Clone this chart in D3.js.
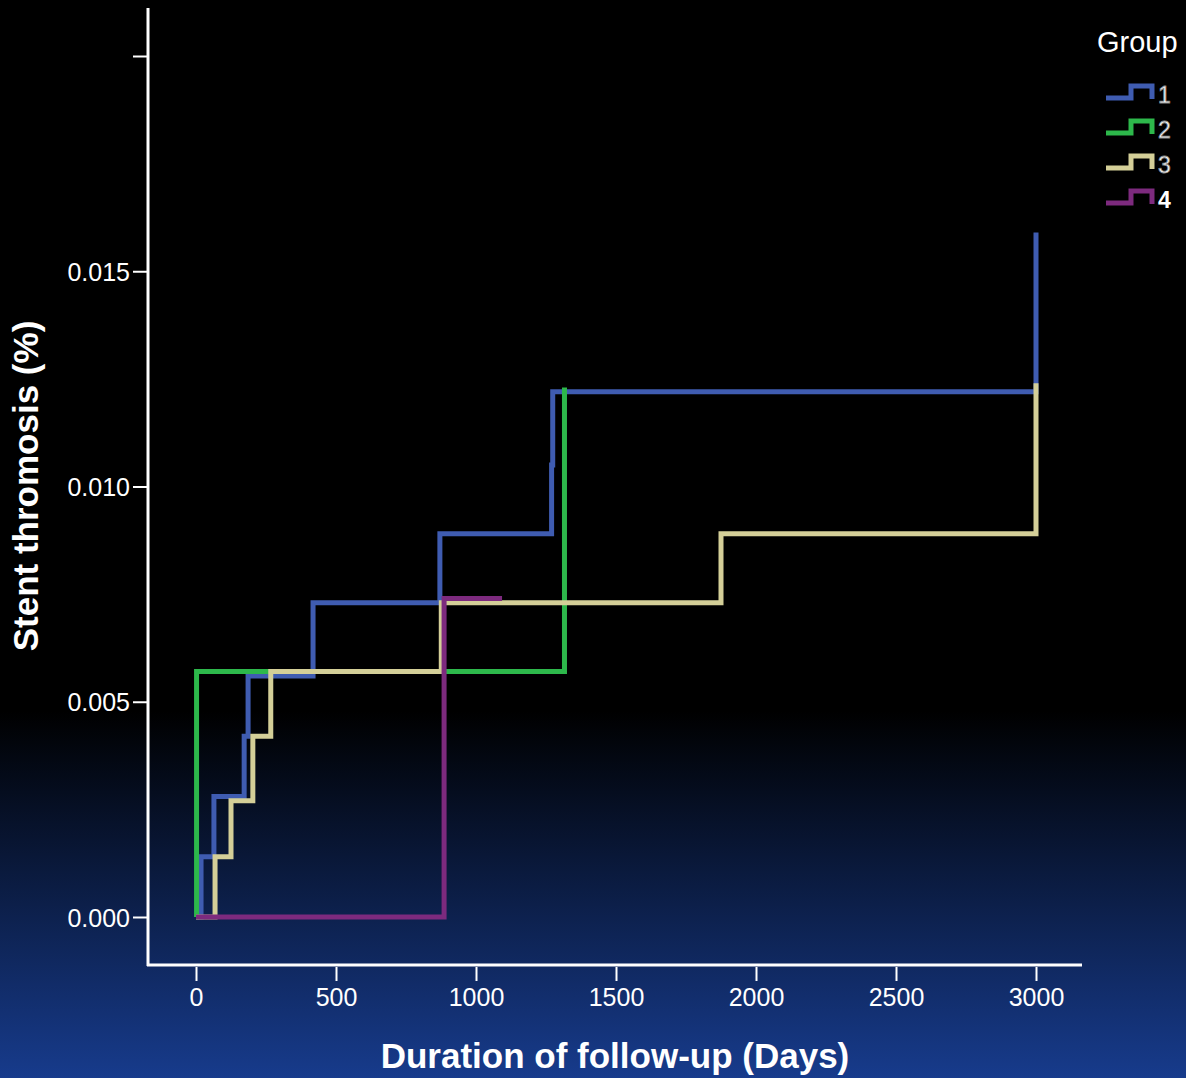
<!DOCTYPE html>
<html>
<head>
<meta charset="utf-8">
<script src="https://cdn.jsdelivr.net/npm/d3@7"></script>
<style>
  html, body { margin: 0; padding: 0; background: #000; }
  svg { display: block; font-family: "Liberation Sans", Arial, sans-serif; }
</style>
</head>
<body>
<div id="chart"></div>
<script>
const groups = ["1", "2", "3", "4"];
const groupColors = ["#3f5cb1", "#2db84b", "#d4cf98", "#7d2a7e"];
// event times (days) and cumulative incidence at each event
const group1Times = [0, 18, 64, 172, 186, 418, 871, 1270, 1274, 3000];
const group1Values = [0, 0.0014, 0.0028, 0.0042, 0.0056, 0.0073, 0.0089, 0.0105, 0.0122, 0.0159];
const group2Times = [0, 2, 1316];
const group2Values = [0, 0.0057, 0.0123];
const group3Times = [0, 68, 125, 203, 267, 876, 1875, 3000];
const group3Values = [0, 0.0014, 0.0027, 0.0042, 0.0057, 0.0073, 0.0089, 0.0124];
const group4Times = [0, 886];
const group4Values = [0, 0.0074];
const followUpEnd = [3000, 1316, 3000, 1093];
const xTicks = [0, 500, 1000, 1500, 2000, 2500, 3000];
const yTicks = [0, 0.005, 0.01, 0.015, 0.02];

const width = 1186, height = 1078;

const svg = d3.select("#chart").append("svg")
  .attr("width", width)
  .attr("height", height);

const defs = svg.append("defs");
const grad = defs.append("linearGradient")
  .attr("id", "bg").attr("x1", 0).attr("y1", 0).attr("x2", 0).attr("y2", 1);
grad.append("stop").attr("offset", "0%").attr("stop-color", "#000000");
grad.append("stop").attr("offset", "66%").attr("stop-color", "#000000");
grad.append("stop").attr("offset", "100%").attr("stop-color", "#173b8c");
svg.append("rect").attr("width", width).attr("height", height).attr("fill", "url(#bg)");

const x = d3.scaleLinear().domain([0, 3000]).range([196, 1036]);
const y = d3.scaleLinear().domain([0, 0.02]).range([917, 56]);

// axis lines
svg.append("line").attr("x1", 148).attr("x2", 148).attr("y1", 8).attr("y2", 966)
  .attr("stroke", "#fff").attr("stroke-width", 3);
svg.append("line").attr("x1", 147).attr("x2", 1082).attr("y1", 965).attr("y2", 965)
  .attr("stroke", "#fff").attr("stroke-width", 3);

const yAxis = d3.axisLeft(y)
  .tickValues(yTicks)
  .tickSize(15)
  .tickPadding(3)
  .tickFormat((d) => (d === 0.02 ? "" : d3.format(".3f")(d)));

const gy = svg.append("g").attr("transform", "translate(148,0)").call(yAxis);
gy.select(".domain").remove();
gy.selectAll(".tick line").attr("stroke", "#fff").attr("stroke-width", 2);
gy.selectAll(".tick text")
  .attr("fill", "#fff")
  .attr("font-size", 25)
  .attr("font-family", "Liberation Sans, Arial, sans-serif")
  .attr("dy", "0.36em");

const xAxis = d3.axisBottom(x)
  .tickValues(xTicks)
  .tickSize(14)
  .tickPadding(7)
  .tickFormat(d3.format("d"));

const gx = svg.append("g").attr("transform", "translate(0,967)").call(xAxis);
gx.select(".domain").remove();
gx.selectAll(".tick line").attr("stroke", "#fff").attr("stroke-width", 2);
gx.selectAll(".tick text")
  .attr("fill", "#fff")
  .attr("font-size", 25)
  .attr("font-family", "Liberation Sans, Arial, sans-serif")
  .attr("dy", "0.71em");

// titles
svg.append("text")
  .attr("x", 615).attr("y", 1068)
  .attr("text-anchor", "middle")
  .attr("fill", "#fff")
  .attr("font-size", 35)
  .attr("font-weight", "bold")
  .text("Duration of follow-up (Days)");

svg.append("text")
  .attr("transform", "translate(38,486) rotate(-90)")
  .attr("text-anchor", "middle")
  .attr("fill", "#fff")
  .attr("font-size", 35)
  .attr("font-weight", "bold")
  .text("Stent thromosis (%)");

// step curves
const seriesTimes = [group1Times, group2Times, group3Times, group4Times];
const seriesValues = [group1Values, group2Values, group3Values, group4Values];

const series = groups.map((g, i) => {
  const pts = seriesTimes[i].map((t, j) => ({ t, v: seriesValues[i][j] }));
  const last = pts[pts.length - 1];
  if (followUpEnd[i] > last.t) pts.push({ t: followUpEnd[i], v: last.v });
  return { group: g, color: groupColors[i], pts };
});

const line = d3.line()
  .curve(d3.curveStepAfter)
  .x((d) => x(d.t))
  .y((d) => y(d.v));

svg.append("g").selectAll("path")
  .data(series)
  .join("path")
  .attr("d", (d) => line(d.pts))
  .attr("fill", "none")
  .attr("stroke", (d) => d.color)
  .attr("stroke-width", 5)
  .attr("stroke-linejoin", "miter")
  .attr("stroke-linecap", "butt");

// legend
const legend = svg.append("g");
legend.append("text")
  .attr("x", 1097).attr("y", 52)
  .attr("fill", "#fff")
  .attr("font-size", 29)
  .text("Group");

const item = legend.selectAll("g.item")
  .data(series)
  .join("g")
  .attr("class", "item")
  .attr("transform", (d, i) => `translate(0,${i * 35})`);

item.append("path")
  .attr("d", "M1106,98 H1131 V86 H1152 V99")
  .attr("fill", "none")
  .attr("stroke", (d) => d.color)
  .attr("stroke-width", 5);

item.append("text")
  .attr("x", 1158).attr("y", 103)
  .attr("font-size", 23)
  .attr("fill", "#fff")
  .attr("stroke", (d, i) => (i === 3 ? "none" : "#888"))
  .attr("stroke-width", 0.8)
  .attr("font-weight", (d, i) => (i === 3 ? "bold" : "normal"))
  .text((d) => d.group);
</script>
</body>
</html>
